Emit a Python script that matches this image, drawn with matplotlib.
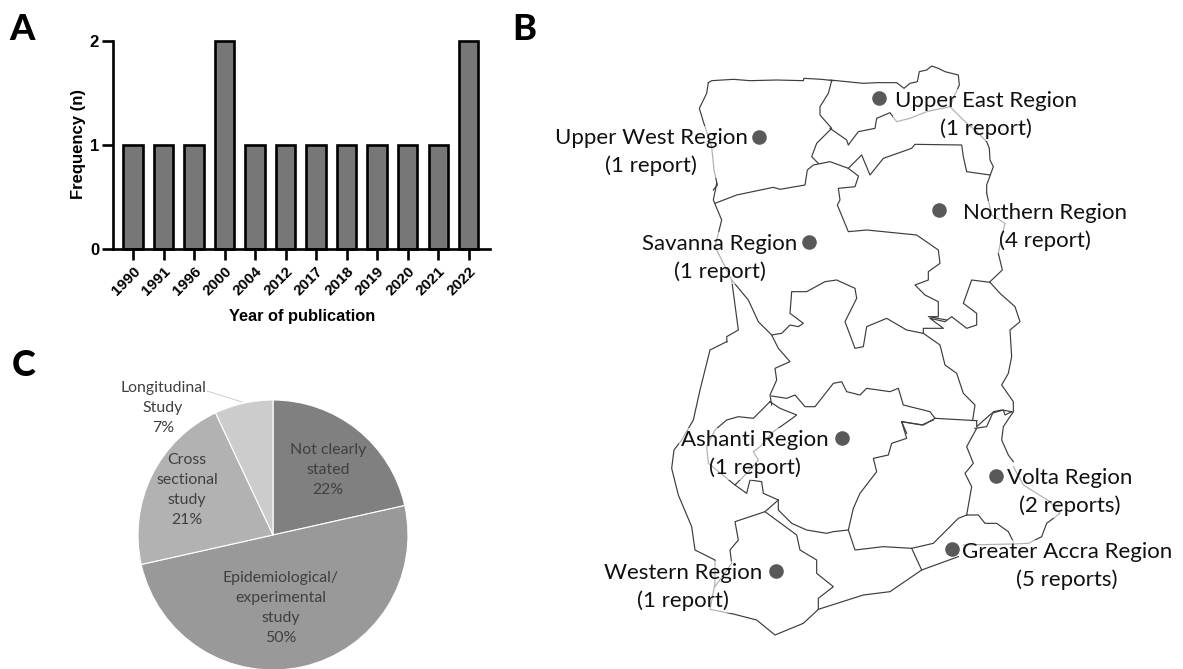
import numpy as np
import matplotlib
matplotlib.use("Agg")
import matplotlib.pyplot as plt

W, H = 1183, 669

# Panel A
years = ["1990", "1991", "1996", "2000", "2004", "2012", "2017", "2018", "2019", "2020", "2021", "2022"]
frequency = [1, 1, 1, 2, 1, 1, 1, 1, 1, 1, 1, 2]

# Panel C
study_shares = [21.5, 50, 21.5, 7]
study_colors = ["#808080", "#999999", "#b2b2b2", "#cccccc"]
study_labels = ["Not clearly\nstated\n22%", "Epidemiological/\nexperimental\nstudy\n50%",
                "Cross\nsectional\nstudy\n21%", "Longitudinal\nStudy\n7%"]

# Panel B, region name, reports, marker position in picture pixels
region_names = ["Upper East Region\n(1 report)", "Upper West Region\n(1 report)", "Northern Region\n(4 report)",
                "Savanna Region\n(1 report)", "Ashanti Region\n(1 report)", "Volta Region\n(2 reports)",
                "Greater Accra Region\n(5 reports)", "Western Region\n(1 report)"]
region_dot_x = [879, 759, 939, 809, 842, 996, 952, 776]
region_dot_y = [98, 137, 210, 242, 438, 476, 549, 571]
region_text_x = [986, 651, 1045, 720, 755, 1070, 1067, 683]
region_text_y = [115, 152, 227, 258, 454, 492, 566, 587]


def crop(ox, oy, pts):
    # outlines were traced on 3x crops of the map
    return [(ox + a / 3, oy + b / 3) for a, b in pts]


map_lines = [
    # outer border, north
    crop(690, 60, [(55, 68), (65, 62), (130, 58), (180, 62), (260, 60), (340, 62), (342, 55), (395, 58), (430, 62)]),
    crop(830, 60, [(0, 60), (60, 66), (100, 70), (140, 68), (200, 68), (222, 85), (240, 70), (262, 65), (268, 35),
                   (290, 30), (305, 18), (325, 25), (345, 35), (385, 45), (388, 75), (372, 110), (360, 140),
                   (400, 180), (440, 215), (470, 245), (478, 265), (480, 300), (490, 320), (470, 375), (470, 399)]),
    # outer border, east
    crop(600, 50, [(1160, 430), (1175, 495), (1215, 520), (1205, 560), (1195, 610), (1207, 660), (1170, 695)]),
    crop(690, 270, [(900, 37), (930, 70), (975, 110), (990, 155), (960, 180), (965, 260), (955, 310), (935, 345),
                    (970, 395), (970, 425)]),
    crop(600, 340, [(1240, 215), (1210, 260), (1205, 300), (1225, 345), (1240, 365)]),
    crop(930, 430, [(250, 110), (280, 165), (320, 190), (360, 215), (390, 250), (350, 280), (335, 320), (295, 340),
                    (250, 342), (100, 345)]),
    # coast
    crop(600, 340, [(1075, 650), (965, 690), (870, 755), (790, 765), (655, 808), (610, 850), (525, 885), (470, 840),
                    (400, 822), (330, 808), (345, 730), (345, 660), (285, 630), (275, 560), (235, 465), (215, 385),
                    (222, 330), (245, 300), (280, 240), (300, 150), (330, 30), (380, 5)]),
    # outer border, west
    crop(690, 60, [(55, 68), (50, 100), (28, 145), (40, 185), (65, 260), (72, 330), (82, 375), (70, 390)]),
    crop(600, 50, [(350, 400), (340, 450), (365, 510), (345, 590), (395, 690)]),
    crop(690, 270, [(125, 30), (145, 180), (110, 200), (111, 216)]),
    # upper west
    crop(600, 50, [(695, 92), (685, 130), (660, 170), (660, 195), (695, 235), (650, 280), (635, 320), (655, 340)]),
    crop(600, 50, [(345, 460), (410, 435), (520, 412), (540, 418), (615, 405), (622, 360), (640, 345), (690, 335),
                   (745, 355), (775, 378)]),
    # upper east
    crop(830, 60, [(0, 205), (50, 240), (55, 255), (85, 215), (135, 205), (140, 175), (180, 158), (200, 185),
                   (240, 175), (290, 155), (360, 140)]),
    # north east
    crop(600, 50, [(745, 355), (785, 315), (810, 375), (850, 325), (935, 295), (945, 283), (1085, 285), (1090, 320),
                   (1100, 365), (1170, 375)]),
    # savanna and northern
    crop(600, 50, [(775, 380), (765, 410), (715, 415), (720, 450), (712, 465), (745, 545), (800, 540), (880, 548),
                   (950, 555), (1015, 600), (1020, 640), (985, 665), (985, 690), (945, 705), (975, 735), (1015, 755),
                   (1015, 800), (985, 800), (1040, 810)]),
    crop(690, 270, [(900, 37), (845, 30), (820, 100), (860, 130), (860, 165), (830, 175), (785, 140), (765, 155),
                    (720, 145), (760, 175), (700, 175), (700, 190)]),
    crop(690, 270, [(700, 190), (650, 180), (590, 145), (530, 170), (520, 230), (495, 235), (465, 155), (500, 85),
                    (495, 55), (440, 30), (405, 35), (350, 65), (305, 65), (300, 130), (340, 160), (325, 170),
                    (300, 165), (275, 190), (245, 195), (205, 155), (175, 90), (125, 30)]),
    # bono and ahafo
    crop(690, 270, [(245, 195), (265, 235), (300, 275), (255, 295), (260, 330), (240, 375), (245, 405)]),
    crop(690, 270, [(245, 378), (290, 385), (315, 375), (345, 410), (375, 410), (430, 340), (455, 335), (470, 365),
                    (510, 375), (530, 355), (600, 365), (625, 355), (640, 405), (720, 425), (735, 445), (860, 452)]),
    crop(690, 270, [(735, 445), (700, 465), (635, 455), (650, 490)]),
    crop(690, 270, [(700, 190), (750, 225), (765, 285), (800, 310), (820, 370), (855, 405), (848, 450)]),
    crop(690, 270, [(860, 452), (860, 470), (905, 430), (940, 420), (945, 435), (965, 425)]),
    # volta
    crop(600, 340, [(1130, 265), (1100, 320), (1120, 370), (1095, 400), (1115, 440), (1100, 525)]),
    crop(600, 340, [(1125, 265), (1160, 260), (1180, 215), (1205, 210), (1235, 215)]),
    crop(600, 340, [(1100, 525), (1135, 525), (1155, 550), (1190, 550), (1225, 575), (1240, 605)]),
    # ashanti
    crop(600, 340, [(905, 245), (965, 255), (1000, 240)]),
    crop(600, 340, [(905, 245), (920, 295), (875, 310), (865, 345), (820, 355), (830, 395), (780, 460), (760, 505),
                    (745, 570), (700, 575), (680, 580), (620, 570), (575, 550), (535, 510), (535, 480), (490, 460),
                    (485, 425), (450, 420), (440, 460), (405, 435), (445, 395), (475, 360), (460, 335), (480, 320),
                    (520, 275), (570, 240), (590, 225), (540, 205), (510, 185)]),
    crop(600, 340, [(510, 185), (460, 235), (415, 230), (380, 240), (345, 270), (320, 320), (325, 370), (405, 435)]),
    # western, central, eastern, accra
    crop(600, 340, [(535, 480), (495, 515), (405, 545), (415, 600), (390, 630), (395, 670), (345, 740)]),
    crop(600, 340, [(495, 515), (590, 585), (600, 630), (650, 660), (650, 700), (700, 740), (655, 775), (655, 808)]),
    crop(600, 340, [(745, 570), (765, 630), (850, 620), (935, 625), (1000, 610), (1040, 570), (1075, 535), (1100, 525)]),
    crop(600, 340, [(935, 625), (965, 690)]),
]

fig = plt.figure(figsize=(W / 100, H / 100), dpi=100)

# full picture overlay, in pixels, for the map and the free text
ov = fig.add_axes([0, 0, 1, 1])
ov.set_xlim(0, W)
ov.set_ylim(H, 0)
ov.axis("off")

for line in map_lines:
    xs, ys = zip(*line)
    ov.plot(xs, ys, color="#3c3c3c", lw=0.85, solid_joinstyle="round", zorder=1)

for name, tx, ty in zip(region_names, region_text_x, region_text_y):
    ov.text(tx, ty, name, ha="center", va="center", family="Lato", fontsize=16, color="#111111",
            linespacing=1.45, zorder=2, bbox=dict(facecolor="white", edgecolor="none", alpha=0.6, pad=1.5))
ov.plot(region_dot_x, region_dot_y, "o", color="#595959", ms=10.5, mew=0, zorder=3)

for letter, lx, ly in [("A", 22, 30), ("B", 524, 30), ("C", 24, 365)]:
    ov.text(lx, ly, letter, ha="center", va="center", family="Lato", weight="black", fontsize=26, color="black")

# Panel A
ax = fig.add_axes([113 / W, 1 - 249 / H, (490 - 113) / W, (249 - 41) / H])
ax.patch.set_alpha(0)
pos = np.arange(len(years))
ax.bar(pos, frequency, width=0.63, color="#777777", edgecolor="black", linewidth=1.9, clip_on=False)
ax.set_xlim(-0.656, 11.7)
ax.set_ylim(0, 2)
ax.set_yticks([0, 1, 2])
ax.set_xticks(pos)
ax.set_xticklabels(years, rotation=45, ha="right", rotation_mode="anchor", family="Liberation Sans",
                   weight="bold", fontsize=11)
for lab in ax.get_yticklabels():
    lab.set_family("Liberation Sans")
    lab.set_weight("bold")
    lab.set_fontsize(12)
ax.tick_params(axis="both", width=1.9, length=8, pad=2)
ax.tick_params(axis="x", pad=3)
for side in ["top", "right"]:
    ax.spines[side].set_visible(False)
for side in ["left", "bottom"]:
    ax.spines[side].set_linewidth(1.9)
ax.set_ylabel("Frequency (n)", family="Liberation Sans", weight="bold", fontsize=12)
ax.yaxis.set_label_coords((86 - 113) / (490 - 113), 0.505)
ax.set_xlabel("Year of publication", family="Liberation Sans", weight="bold", fontsize=11.8)
ax.xaxis.set_label_coords((302 - 113) / (490 - 113), -(309 - 249) / (249 - 41))

# Panel C
pie_ax = fig.add_axes([138 / W, 1 - 670 / H, 270 / W, 270 / H])
pie_ax.pie(study_shares, colors=study_colors, startangle=90, counterclock=False, radius=1,
           wedgeprops=dict(edgecolor="white", linewidth=0.8))
pie_ax.set_xlim(-1, 1)
pie_ax.set_ylim(-1, 1)

pie_x = [328, 281, 187, 163]
pie_y = [470, 608, 490, 408]
for txt, tx, ty in zip(study_labels, pie_x, pie_y):
    ov.text(tx, ty, txt, ha="center", va="center", family="Lato", fontsize=11.4, color="#404040",
            linespacing=1.53, zorder=5)
ov.set_zorder(3)
ov.plot([207, 242], [391, 402], color="#c8c8c8", lw=0.6, zorder=5)

fig.savefig("out.png", dpi=100)
